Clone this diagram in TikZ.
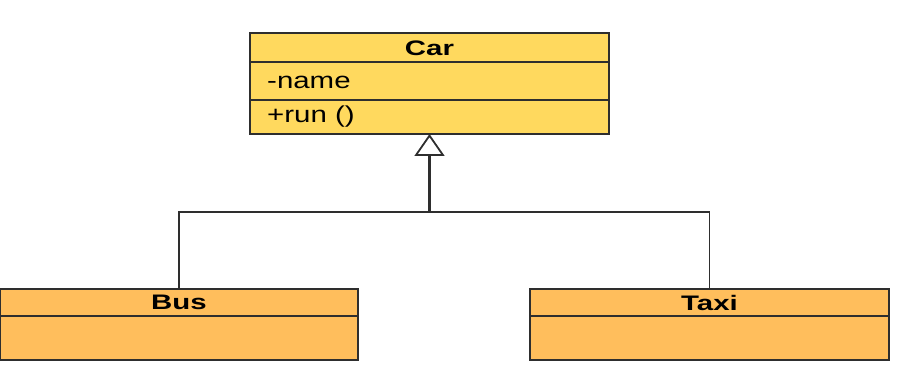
\documentclass[tikz,border=0pt]{standalone}
\usepackage{fontspec}
\setmainfont{Liberation Sans}
\usetikzlibrary{arrows.meta}
\definecolor{caryellow}{HTML}{FFD95E}
\definecolor{suborange}{HTML}{FFBE5C}
\definecolor{edge}{HTML}{2E2E2E}
\newcommand{\widetitle}[1]{\scalebox{1.4}[1]{#1}}
\newcommand{\widemember}[1]{\scalebox{1.28}[1]{#1}}
\begin{document}
\begin{tikzpicture}[x=1pt,y=-1pt,
  umlpart/.style={draw=edge,line width=1.7pt,anchor=north west,inner sep=0pt,outer sep=0pt},
  titletext/.style={font=\fontsize{21}{25}\selectfont\bfseries,inner sep=0pt},
  membertext/.style={font=\fontsize{23}{27}\selectfont,inner sep=0pt},
  conn/.style={draw=edge,line width=1.8pt}]
\useasboundingbox (0,0) rectangle (897,390);
% Car
\node[umlpart,fill=caryellow,minimum width=359pt,minimum height=29pt] (cartitle) at (250,33) {};
\node[titletext] (carname) at ([yshift=-0.5pt]cartitle.center) {\widetitle{Car}};
\node[umlpart,fill=caryellow,minimum width=359pt,minimum height=38pt] (carattr) at (250,62) {};
\node[membertext,anchor=west] (attrtext) at (267,82) {\widemember{-name}};
\node[umlpart,fill=caryellow,minimum width=359pt,minimum height=34pt] (carop) at (250,100) {};
\node[membertext,anchor=west] (optext) at (267,117) {\widemember{+run ()}};
% Bus
\node[umlpart,fill=suborange,minimum width=358pt,minimum height=27pt] (bustitle) at (0,289) {};
\node[titletext] (busname) at (bustitle.center) {\widetitle{Bus}};
\node[umlpart,fill=suborange,minimum width=358pt,minimum height=44pt] (busbody) at (0,316) {};
% Taxi
\node[umlpart,fill=suborange,minimum width=359pt,minimum height=27pt] (taxititle) at (530,289) {};
\node[titletext] (taxiname) at (taxititle.center) {\widetitle{Taxi}};
\node[umlpart,fill=suborange,minimum width=359pt,minimum height=44pt] (taxibody) at (530,316) {};
% connectors
\coordinate (junction) at (carop.south |- 0,212);
\draw[conn] (bustitle.north) |- (junction);
\draw[conn] (taxititle.north) |- (junction);
\draw[conn,line width=2.6pt,-{Triangle[open,length=22pt,width=30pt,line width=1.8pt]}] (junction) -- (carop.south);
\end{tikzpicture}
\end{document}
